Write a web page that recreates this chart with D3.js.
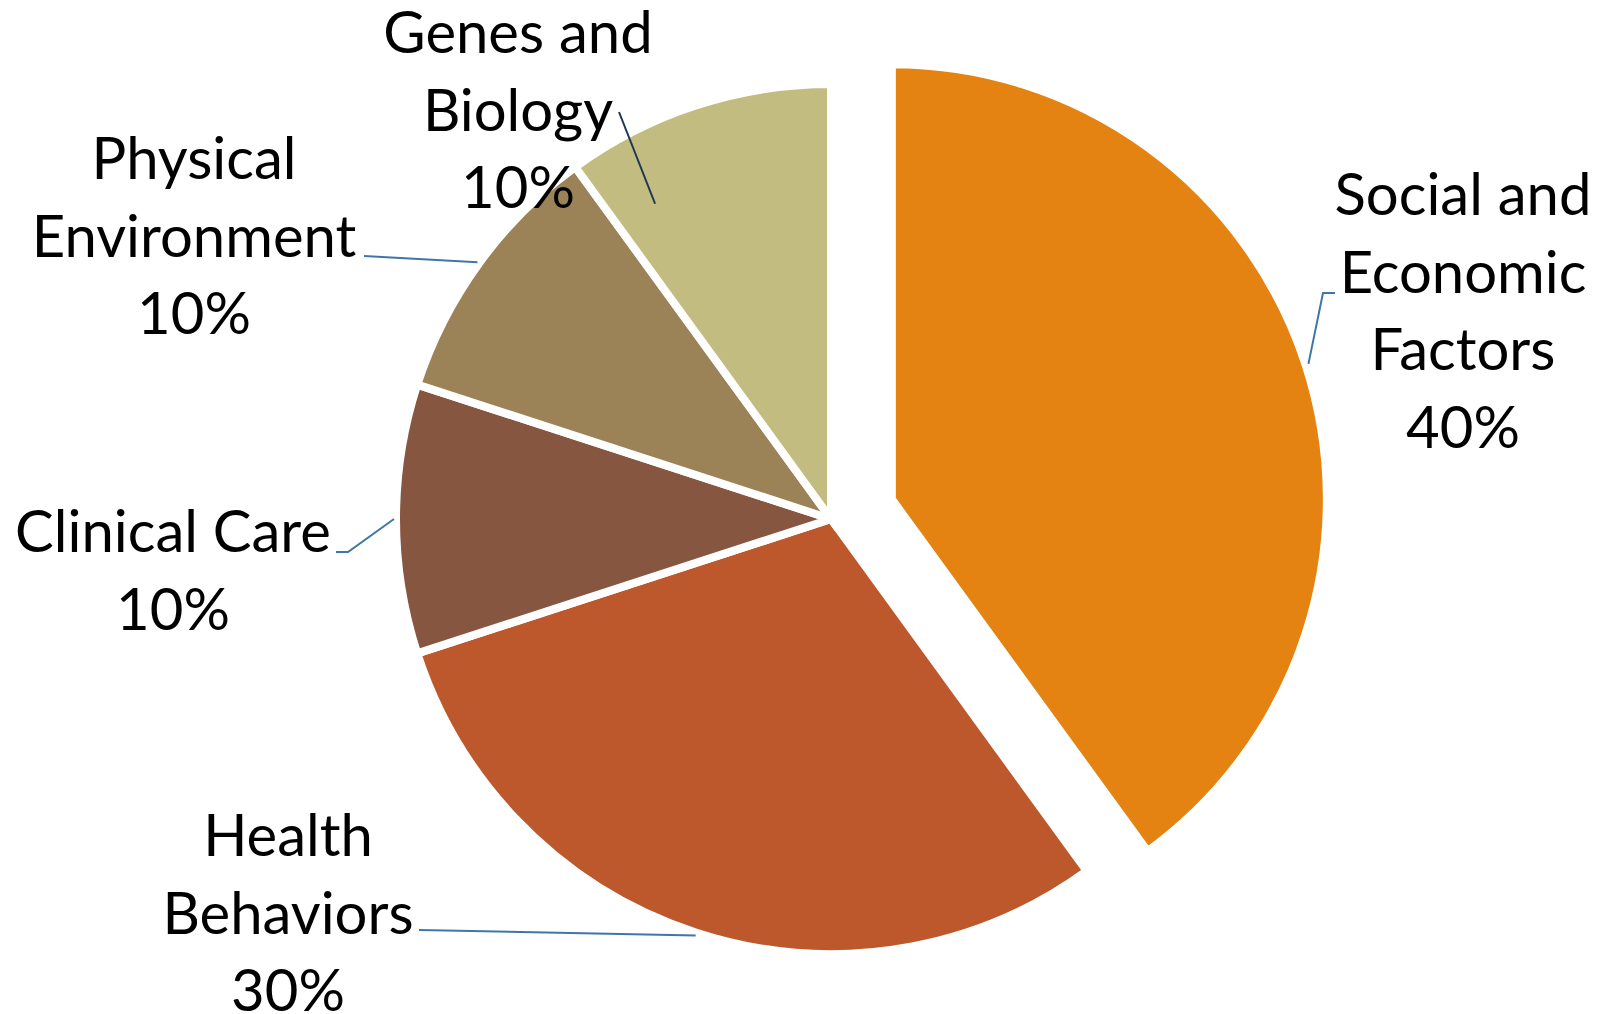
<!DOCTYPE html>
<html>
<head>
<meta charset="utf-8">
<script src="https://cdn.jsdelivr.net/npm/d3@7"></script>
<style>
  body { margin: 0; background: #fff; }
  svg { display: block; }
  .label text { font-family: Lato, 'Noto Sans', sans-serif; font-size: 58px; fill: #000; }
</style>
</head>
<body>
<div class="canvas"></div>
<script>
// data
const categories = ['Social and Economic Factors', 'Health Behaviors', 'Clinical Care', 'Physical Environment', 'Genes and Biology'];
const labelLines = [
  ['Social and', 'Economic', 'Factors'],
  ['Health', 'Behaviors'],
  ['Clinical Care'],
  ['Physical', 'Environment'],
  ['Genes and', 'Biology']
];
const values = [40, 30, 10, 10, 10];
const colors = ['#E48312', '#BD582C', '#865640', '#9B8357', '#C2BC80'];

const width = 1601;
const height = 1014;
const center = { x: 831, y: 519 };
const radius = 435;
const explode = [64, 0, 0, 0, 0];
const lineGap = 77.5;

// hand placed labels, as in the original chart
const labelLayout = [
  { x: 1463, y: 215, pts: [[1335, 293], [1323, 293]], frac: 0.5, r: 438, color: '#3F76A8' },
  { x: 288, y: 856, pts: [[419, 930]], frac: 0.5, r: 438, color: '#3F76A8' },
  { x: 173, y: 552, pts: [[336, 552], [348, 552]], frac: 0.5, r: 437, color: '#3F76A8' },
  { x: 194, y: 179, pts: [[364, 256]], frac: 0.5, r: 437, color: '#3F76A8' },
  { x: 518, y: 53, pts: [[619, 112]], frac: 0.19, r: 361, color: '#1D3853' }
];

const svg = d3
  .select('.canvas')
  .append('svg')
  .attr('width', width)
  .attr('height', height);

const graph = svg
  .append('g')
  .attr('transform', `translate(${center.x}, ${center.y})`);

const pie = d3
  .pie()
  .sort(null)
  .value(d => d);

const arc = d3
  .arc()
  .innerRadius(0)
  .outerRadius(radius);

const arcs = pie(values);

// offset of an exploded slice along its mid angle
const shift = (d, i) => {
  const mid = (d.startAngle + d.endAngle) / 2;
  return [Math.sin(mid) * explode[i], -Math.cos(mid) * explode[i]];
};

graph
  .selectAll('path')
  .data(arcs)
  .enter()
  .append('path')
  .attr('d', arc)
  .attr('fill', (d, i) => colors[i])
  .attr('stroke', '#fff')
  .attr('stroke-width', 8)
  .attr('stroke-linejoin', 'miter')
  .attr('transform', (d, i) => `translate(${shift(d, i)})`);

// leader lines
const leader = d3.line();

svg
  .append('g')
  .selectAll('path')
  .data(arcs)
  .enter()
  .append('path')
  .attr('fill', 'none')
  .attr('stroke', (d, i) => labelLayout[i].color)
  .attr('stroke-width', 2)
  .attr('d', (d, i) => {
    const lay = labelLayout[i];
    const a = d.startAngle + (d.endAngle - d.startAngle) * lay.frac;
    const s = shift(d, i);
    const end = [
      center.x + s[0] + Math.sin(a) * lay.r,
      center.y + s[1] - Math.cos(a) * lay.r
    ];
    return leader(lay.pts.concat([end]));
  });

// labels
const labels = svg
  .append('g')
  .attr('class', 'label')
  .selectAll('text')
  .data(arcs)
  .enter()
  .append('text')
  .attr('text-anchor', 'middle');

labels.each(function(d, i) {
  const lay = labelLayout[i];
  const lines = labelLines[i].concat([d3.format('.0%')(d.value / d3.sum(values))]);
  d3.select(this)
    .selectAll('tspan')
    .data(lines)
    .enter()
    .append('tspan')
    .attr('x', lay.x)
    .attr('y', (t, j) => lay.y + j * lineGap)
    .text(t => t);
});
</script>
</body>
</html>
